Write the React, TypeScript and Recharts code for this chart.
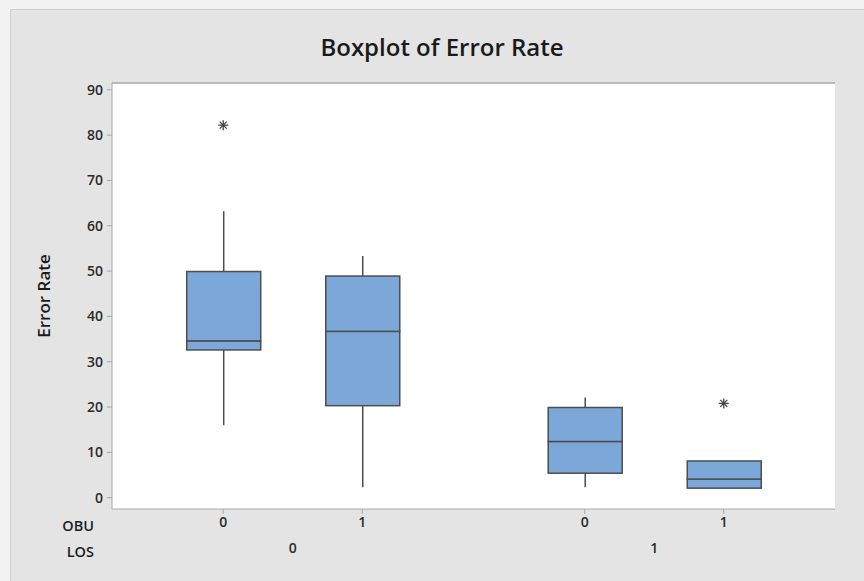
import React from "react"
import {
  ComposedChart,
  Bar,
  Scatter,
  XAxis,
  YAxis,
  CartesianGrid
} from "recharts"

// box plot summary per group
const positions = [1, 2, 3.6, 4.6]
const obuLabels = ["0", "1", "0", "1"]
const losPositions = [1.5, 4.1]
const losLabels = ["0", "1"]
const whiskerLow = [16.0, 2.3, 2.3, 2.1]
const q1 = [32.6, 20.3, 5.4, 2.1]
const median = [34.6, 36.7, 12.4, 4.1]
const q3 = [49.9, 48.9, 19.9, 8.1]
const whiskerHigh = [63.2, 53.3, 22.1, 8.1]
const outlierPos = [1, 4.6]
const outlierValues = [82.2, 20.8]
const yTicks = [0, 10, 20, 30, 40, 50, 60, 70, 80, 90]

const rows = positions.map((pos, i) => ({
  pos,
  base: whiskerLow[i],
  lowWhisker: q1[i] - whiskerLow[i],
  lowBox: median[i] - q1[i],
  highBox: q3[i] - median[i],
  highWhisker: whiskerHigh[i] - q3[i],
}))

const outliers = outlierPos.map((pos, i) => ({ pos, value: outlierValues[i] }))

const FONT = "'Open Sans', 'Noto Sans', sans-serif"
const BOX_FILL = "#7ba7d9"
const LINE = "#4d4d4d"
const FRAME = "#a8a8a8"

const Empty = () => <g />

const Whisker = (props: any) => {
  const { x, y, width, height } = props
  if (!height || height < 0.5) return <g />
  const cx = x + width / 2
  return <line x1={cx} x2={cx} y1={y} y2={y + height} stroke={LINE} strokeWidth={1.5} />
}

const BoxPart = (props: any) => {
  const { x, y, width, height } = props
  return (
    <rect x={x} y={y} width={width} height={Math.max(height, 0)}
      fill={BOX_FILL} stroke={LINE} strokeWidth={1.5} />
  )
}

const Star = (props: any) => {
  const { cx, cy } = props
  const r = 5
  const d = r * 0.7
  return (
    <g stroke="#444" strokeWidth={1.3}>
      <line x1={cx - r} x2={cx + r} y1={cy} y2={cy} />
      <line x1={cx} x2={cx} y1={cy - r} y2={cy + r} />
      <line x1={cx - d} x2={cx + d} y1={cy - d} y2={cy + d} />
      <line x1={cx - d} x2={cx + d} y1={cy + d} y2={cy - d} />
    </g>
  )
}

const tickStyle = { fill: "#2a2a2a", fontSize: 14, fontWeight: 600, fontFamily: FONT }
const rowLabelStyle = { fill: "#1e1e1e", fontSize: 14.5, fontWeight: 600, fontFamily: FONT }

export default function App() {
  return (
    <div style={{ position: "absolute", left: 0, top: 0, width: 864, height: 581, background: "#f2f2f2", overflow: "hidden" }}>
      <div style={{ position: "absolute", left: 10, top: 9, width: 860, height: 580, background: "#e4e4e4", border: "1px solid #cfcfcf" }} />
      <div style={{ position: "absolute", left: 0, top: 30, width: 884, textAlign: "center", fontFamily: FONT, fontWeight: 600, fontSize: 24, color: "#1a1a1a" }}>
        Boxplot of Error Rate
      </div>
      <div style={{ position: "absolute", left: 0, top: 0 }}>
        <ComposedChart width={864} height={581} data={rows}
          margin={{ top: 82, right: 29, bottom: 20, left: 52 }}>
          <CartesianGrid horizontal={false} vertical={false} fill="#ffffff" />
          <XAxis xAxisId={0} dataKey="pos" type="number" domain={[0.2, 5.4]} allowDataOverflow
            ticks={positions} tickFormatter={(v: number) => obuLabels[positions.indexOf(v)]}
            height={34} tickSize={5} tickMargin={3} stroke={FRAME} tick={tickStyle}
            interval={0}
            label={{ value: "OBU", position: "left", offset: 18, style: rowLabelStyle }} />
          <XAxis xAxisId="los" dataKey="pos" type="number" domain={[0.2, 5.4]} allowDataOverflow
            ticks={losPositions} tickFormatter={(v: number) => losLabels[losPositions.indexOf(v)]}
            height={18} tickSize={0} tickMargin={0} axisLine={false} tickLine={false} tick={tickStyle}
            interval={0}
            label={{ value: "LOS", position: "left", offset: 18, style: rowLabelStyle }} />
          <XAxis xAxisId="top" orientation="top" dataKey="pos" type="number" domain={[0.2, 5.4]}
            allowDataOverflow height={1} tick={false} tickLine={false} stroke={FRAME} strokeWidth={1.5} />
          <YAxis yAxisId={0} type="number" domain={[-2.5, 91.5]} ticks={yTicks} width={60}
            tickSize={5} tickMargin={4} stroke={FRAME} tick={tickStyle} interval={0}
            label={{ value: "Error Rate", angle: -90, position: "insideLeft", offset: 0, dx: -8,
              style: { fill: "#1a1a1a", fontSize: 17, fontWeight: 600, fontFamily: FONT, textAnchor: "middle" } }} />
          <YAxis yAxisId="right" orientation="right" type="number" domain={[-2.5, 91.5]} width={0}
            tick={false} tickLine={false} stroke={FRAME} strokeWidth={1.5} />
          <Bar dataKey="base" stackId="b" barSize={74} shape={Empty} isAnimationActive={false} />
          <Bar dataKey="lowWhisker" stackId="b" barSize={74} shape={Whisker} isAnimationActive={false} />
          <Bar dataKey="lowBox" stackId="b" barSize={74} shape={BoxPart} isAnimationActive={false} />
          <Bar dataKey="highBox" stackId="b" barSize={74} shape={BoxPart} isAnimationActive={false} />
          <Bar dataKey="highWhisker" stackId="b" barSize={74} shape={Whisker} isAnimationActive={false} />
          <Scatter data={outliers} dataKey="value" shape={Star} isAnimationActive={false} />
        </ComposedChart>
      </div>
    </div>
  )
}
